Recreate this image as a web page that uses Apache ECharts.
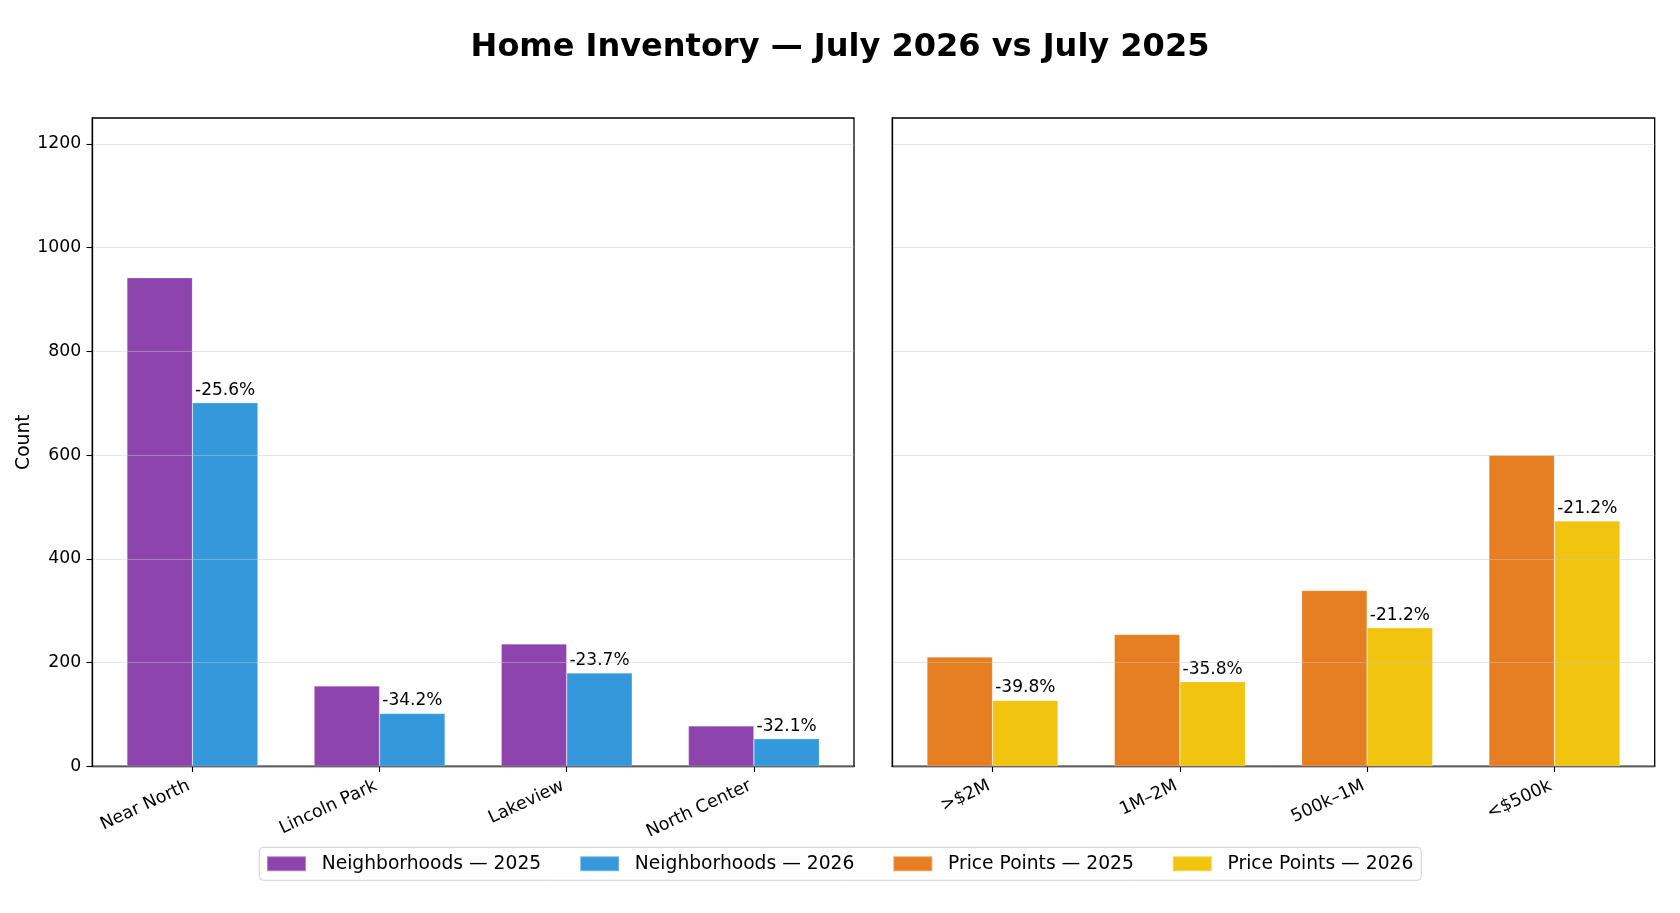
<!DOCTYPE html>
<html>
<head>
<meta charset="utf-8">
<style>
  html, body { margin: 0; padding: 0; background: #ffffff; }
  #chart { width: 1680px; height: 913px; }
</style>
<script src="https://cdn.jsdelivr.net/npm/echarts@6/dist/echarts.min.js"></script>
</head>
<body>
<div id="chart"></div>
<script>
// ---- data ----
const titleText = 'Home Inventory — July 2026 vs July 2025';
const neighborhoods = ['Near North', 'Lincoln Park', 'Lakeview', 'North Center'];
const neighborhoods2025 = [942, 155, 236, 78];
const neighborhoods2026 = [701, 102, 180, 53];
const neighborhoodsChange = ['-25.6%', '-34.2%', '-23.7%', '-32.1%'];

const pricePoints = ['>$2M', '1M–2M', '500k–1M', '<$500k'];
const pricePoints2025 = [211, 254, 339, 600];
const pricePoints2026 = [127, 163, 267, 473];
const pricePointsChange = ['-39.8%', '-35.8%', '-21.2%', '-21.2%'];

const yTickValues = [0, 200, 400, 600, 800, 1000, 1200];
const categoryIndex = [0, 1, 2, 3];

const seriesNames = ['Neighborhoods — 2025', 'Neighborhoods — 2026', 'Price Points — 2025', 'Price Points — 2026'];
const colors = ['#8e44ad', '#3498db', '#e67e22', '#f1c40f'];

// ---- layout ----
const FONT = 'DejaVu Sans';
const grids = [
  { left: 92.3, top: 118, width: 761.7, height: 648.3 },
  { left: 892.3, top: 118, width: 762.4, height: 648.3 }
];
const half = 0.175;              // half the matplotlib bar width (0.35)
const xMin = -0.535, xMax = 3.535;
const barPx = 0.35 * 761.7 / (xMax - xMin);

function pairs(vals, offset) {
  return vals.map((v, i) => [i + offset, v]);
}

function xAxisFor(gridIndex, cats) {
  return {
    type: 'value', gridIndex: gridIndex, min: xMin, max: xMax,
    splitLine: { show: false },
    axisLine: { show: true, onZero: false, lineStyle: { color: '#000', width: 1.3 } },
    axisTick: { show: true, length: 5.8, customValues: categoryIndex, lineStyle: { color: '#000', width: 1.1 } },
    axisLabel: {
      customValues: categoryIndex, rotate: 25, margin: 17, fontSize: 17.5, color: '#000',
      fontFamily: FONT, padding: [0, 4, 0, 0],
      formatter: function (v) { return cats[Math.round(v)]; }
    }
  };
}

function yAxisFor(gridIndex, showLabels) {
  return {
    type: 'value', gridIndex: gridIndex, min: 0, max: 1250, interval: 200, z: 3,
    name: showLabels ? 'Count' : '', nameLocation: 'middle', nameGap: 55, nameRotate: 90,
    nameTextStyle: { fontSize: 18.7, color: '#000', fontFamily: FONT },
    axisLine: { show: true, onZero: false, lineStyle: { color: '#000', width: 1.3 } },
    axisTick: { show: showLabels, length: 5.8, customValues: yTickValues, lineStyle: { color: '#000', width: 1.1 } },
    axisLabel: {
      show: showLabels, customValues: yTickValues, margin: 11, fontSize: 17.3, color: '#000', fontFamily: FONT,
      formatter: function (v) { return String(v); }
    },
    splitLine: { show: true, lineStyle: { color: 'rgba(200,200,200,0.45)', width: 1 } }
  };
}

function barSeries(name, idx, data, color, labels) {
  const s = {
    name: name, type: 'bar', xAxisIndex: idx, yAxisIndex: idx,
    data: data, barWidth: barPx, barGap: '-100%',
    itemStyle: { color: color, borderColor: 'rgba(255,255,255,0.35)', borderWidth: 0.6 },
    emphasis: { disabled: true },
    label: { show: false }
  };
  if (labels) {
    s.label = {
      show: true, position: 'top', distance: 4, fontSize: 17, color: '#000', fontFamily: FONT,
      formatter: function (p) { return labels[p.dataIndex]; }
    };
  }
  return s;
}

const chart = echarts.init(document.getElementById('chart'), null, { renderer: 'canvas' });
chart.setOption({
  animation: false,
  backgroundColor: '#ffffff',
  textStyle: { fontFamily: FONT },
  title: {
    text: titleText, left: 'center', top: 32, padding: 0,
    textStyle: { fontSize: 32, fontWeight: 'bold', color: '#000', fontFamily: FONT }
  },
  legend: {
    data: seriesNames, left: 259.3, top: 847.3, orient: 'horizontal',
    padding: [7, 8, 7, 6.7], itemWidth: 39, itemHeight: 15, itemGap: 38,
    borderColor: '#d0d0d0', borderWidth: 1, borderRadius: 4,
    icon: 'rect',
    textStyle: { fontSize: 18.7, color: '#000', fontFamily: FONT, padding: [0, 0, 0, 10.7] }
  },
  grid: grids.map(g => Object.assign({ show: true, borderColor: '#000', borderWidth: 1.3, backgroundColor: 'transparent', containLabel: false }, g)),
  xAxis: [xAxisFor(0, neighborhoods), xAxisFor(1, pricePoints)],
  yAxis: [yAxisFor(0, true), yAxisFor(1, false)],
  series: [
    barSeries(seriesNames[0], 0, pairs(neighborhoods2025, -half), colors[0], null),
    barSeries(seriesNames[1], 0, pairs(neighborhoods2026, half), colors[1], neighborhoodsChange),
    barSeries(seriesNames[2], 1, pairs(pricePoints2025, -half), colors[2], null),
    barSeries(seriesNames[3], 1, pairs(pricePoints2026, half), colors[3], pricePointsChange)
  ]
});
</script>
</body>
</html>
